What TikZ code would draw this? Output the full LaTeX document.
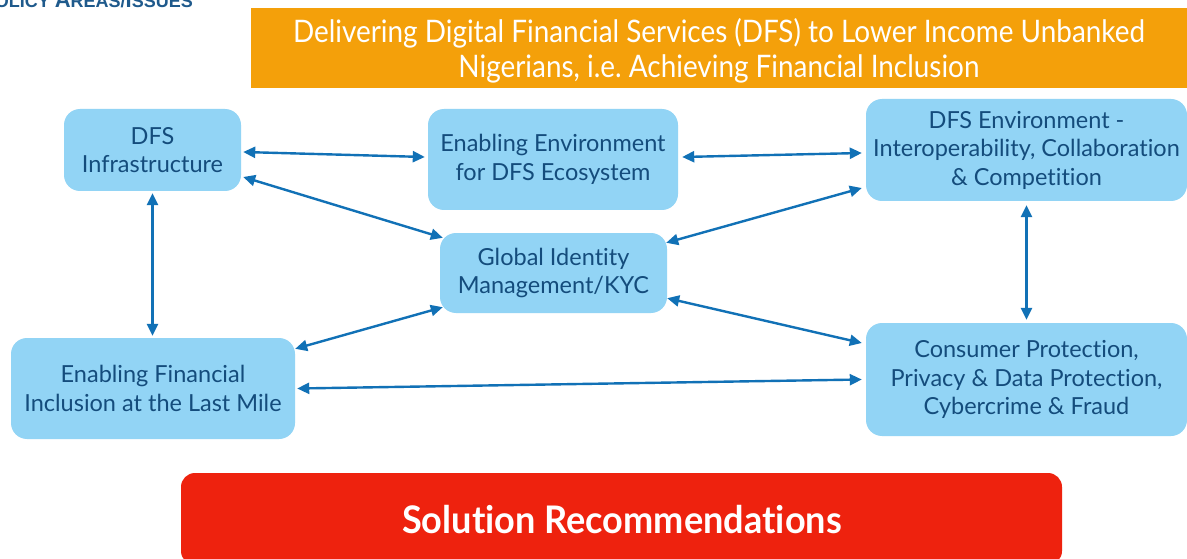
\documentclass[tikz,border=0pt]{standalone}
\usepackage{fontspec}
\setmainfont{Lato}[Ligatures={NoCommon}]
\newfontfamily\latocond[FakeStretch=0.9,Ligatures={NoCommon}]{Lato}
\newfontfamily\latoboldcond[FakeStretch=0.95,Ligatures={NoCommon}]{Lato Bold}
\newfontfamily\headfont{Liberation Sans}
\usetikzlibrary{arrows.meta,calc}

\definecolor{boxfill}{HTML}{92D4F5}
\definecolor{boxtext}{HTML}{144C7C}
\definecolor{linkblue}{HTML}{1171B6}
\definecolor{bannerorange}{HTML}{F4A00A}
\definecolor{solred}{HTML}{EE220E}
\definecolor{headblue}{HTML}{1F5A8C}

\tikzset{
  topic/.style={rectangle, rounded corners=16pt, fill=boxfill, text=boxtext,
    align=center, inner sep=0pt, font=\fontsize{23.5}{28.5}\selectfont},
  link/.style={draw=linkblue, line width=2.4pt,
    {Triangle[length=12pt,width=11pt]}-{Triangle[length=12pt,width=11pt]}},
}

\begin{document}
\begin{tikzpicture}[x=1pt,y=-1pt]
  \useasboundingbox (0,0) rectangle (1187,559);
  \clip (0,0) rectangle (1187,559);
  \fill[white] (0,0) rectangle (1187,559);

  % section heading, partly above the page edge
  \node[anchor=base east, inner sep=0pt, text=headblue, font=\headfont\bfseries]
    (heading) at (193,8)
    {\fontsize{22}{22}\selectfont P\fontsize{18}{18}\selectfont OLICY
     \fontsize{22}{22}\selectfont A\fontsize{18}{18}\selectfont REAS/%
     \fontsize{22}{22}\selectfont I\fontsize{18}{18}\selectfont SSUES};

  % goal banner
  \fill[bannerorange] (251,8) rectangle (1187,88);
  \node[text=white, align=center, inner sep=0pt,
    font=\latocond\fontsize{31}{35}\selectfont] (goal) at (719,51)
    {Delivering Digital Financial Services (DFS) to Lower Income Unbanked\\
     Nigerians, i.e.\ Achieving Financial Inclusion};

  % policy areas
  \node[topic, minimum width=177pt, minimum height=82pt] (infra) at (152.5,150)
    {DFS\\Infrastructure};
  \node[topic, minimum width=250pt, minimum height=101pt] (env) at (553,159.5)
    {Enabling Environment\\for DFS Ecosystem};
  \node[topic, minimum width=321pt, minimum height=102pt] (dfsenv) at (1026.5,150)
    {DFS Environment -\\Interoperability, Collaboration\\\& Competition};
  \node[topic, minimum width=227pt, minimum height=80pt] (gid) at (553.5,273)
    {Global Identity\\Management/KYC};
  \node[topic, minimum width=284pt, minimum height=101pt] (efi) at (153,388.5)
    {Enabling Financial\\Inclusion at the Last Mile};
  \node[topic, minimum width=321pt, minimum height=113pt] (consumer) at (1026.5,379.5)
    {Consumer Protection,\\Privacy \& Data Protection,\\Cybercrime \& Fraud};

  % links between the areas
  \draw[link] ($(infra.east)+(2,2)$) -- ($(env.west)+(-3,-2.5)$);
  \draw[link] ($(infra.east)+(2,27)$) -- ($(gid.north west)+(3,5)$);
  \draw[link] ($(env.east)+(4,-2.5)$) -- ($(dfsenv.west)+(-4,3)$);
  \draw[link] ($(gid.north east)+(-1,10)$) -- ($(dfsenv.west)+(-4,38)$);
  \draw[link] ($(infra.south)+(0,2)$) -- ($(efi.north)+(-0.5,-2)$);
  \draw[link] ($(gid.south west)+(3,-6)$) -- ($(efi.north east)+(0,11)$);
  \draw[link] ($(efi.east)+(2,0)$) -- ($(consumer.west)+(-4,0)$);
  \draw[link] ($(gid.south east)+(0,-15)$) -- ($(consumer.west)+(-4,-36.5)$);
  \draw[link] ($(dfsenv.south)+(0,4)$) -- ($(consumer.north)+(0,-3)$);

  % recommendations bar
  \node[rectangle, rounded corners=14pt, fill=solred, minimum width=881pt,
    minimum height=92pt, inner sep=0pt] (sol) at (621.5,519) {};
  \node[text=white, inner sep=0pt, font=\latoboldcond\fontsize{38}{38}\selectfont]
    (soltext) at (622,520) {Solution Recommendations};
\end{tikzpicture}
\end{document}
